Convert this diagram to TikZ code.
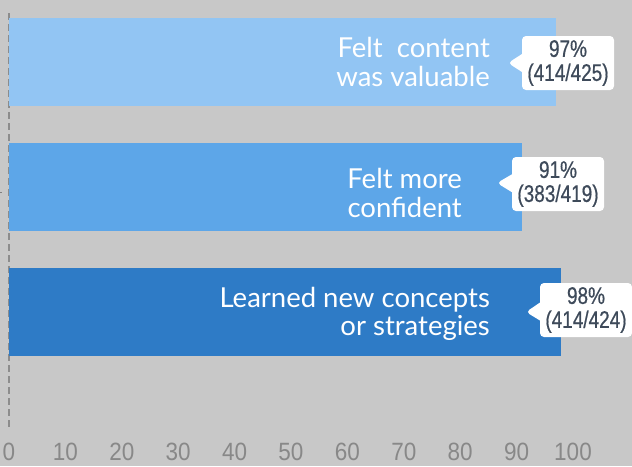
\documentclass[tikz,border=0pt]{standalone}
\usepackage{fontspec}
\setmainfont{Lato}
\newfontfamily\numfont[FakeStretch=0.79,FakeBold=0.6]{Liberation Sans}
\newfontfamily\axisfont[FakeStretch=0.9]{Liberation Sans}
\usetikzlibrary{shapes.callouts}
\definecolor{bg}{HTML}{C8C8C8}
\definecolor{barA}{HTML}{92C5F3}
\definecolor{barB}{HTML}{5DA6E8}
\definecolor{barC}{HTML}{2E7BC6}
\definecolor{numtext}{HTML}{3E4A5A}
\definecolor{axistext}{HTML}{888888}

\begin{document}
\begin{tikzpicture}[x=1pt, y=-1pt]
\tikzstyle{bar} = [rectangle, anchor=north west, inner sep=0, minimum height=88]
\tikzstyle{label} = [anchor=east, align=right, text=white, inner sep=0, font=\fontsize{27.5}{28.5}\selectfont]
\tikzstyle{tag} = [rectangle callout, fill=white, rounded corners=4pt, minimum width=92, minimum height=54,
  inner sep=0, align=center, text=numtext, callout pointer width=18pt, font=\numfont\fontsize{24}{24}\selectfont]
\tikzstyle{tick} = [axistext, anchor=center, font=\axisfont\fontsize{25}{25}\selectfont]
\fill[bg] (0,0) rectangle (632,466);
\useasboundingbox (0,0) rectangle (632,466);
% axis
\coordinate (top) at (9,13);
\coordinate (bot) at (9,427);
\draw[gray!90, line width=1.3pt, dash pattern=on 7pt off 4pt] (top) -- (bot);
\coordinate (m1) at (0,192);
\coordinate (m2) at (2,192);
\draw[gray, line width=1pt] (m1) -- (m2);
% bars
\node[bar, fill=barA, minimum width=547] (b1) at (9,18) {};
\node[bar, fill=barB, minimum width=513] (b2) at (9,143) {};
\node[bar, fill=barC, minimum width=552] (b3) at (9,268) {};
\node[label] (l1) at (490,62) {Felt\ \ content\\was valuable};
\node[label] (l2) at (462,193) {Felt more\\confident};
\node[label] (l3) at (490,314) {Learned new concepts\\or strategies};
% value tags
\node[tag, callout absolute pointer={(508,63)}] (t1) at (568,63) {97\%\\(414/425)};
\node[tag, callout absolute pointer={(497,183)}] (t2) at (558,184) {91\%\\(383/419)};
\node[tag, callout absolute pointer={(526,312)}] (t3) at (586,310) {98\%\\(414/424)};
% scale
\foreach \v [count=\i from 0] in {0,10,...,100}
  \node[tick] (x\i) at (9+56.4*\i,452) {\v};
\end{tikzpicture}
\end{document}
